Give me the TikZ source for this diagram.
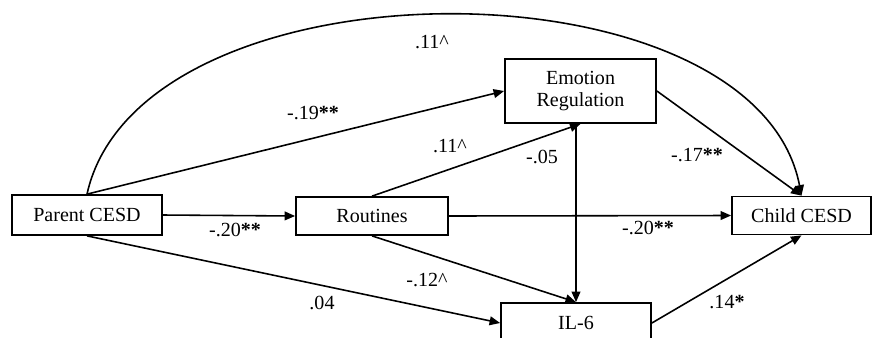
\documentclass[tikz,border=0pt]{standalone}
\usepackage{fontspec}
\setmainfont{Liberation Serif}
\usepackage{tikz}
\usetikzlibrary{arrows.meta,calc}
\newcommand{\sgA}{\textbf{*}}
\newcommand{\sgB}{\textbf{**}}

\begin{document}
\begin{tikzpicture}[
  font=\fontsize{11.4}{13}\selectfont,
  box/.style={draw, line width=1pt, inner sep=2pt, align=center, minimum width=3cm, minimum height=0.76cm},
  ar/.style={-{Triangle[length=6pt,width=5pt]}, line width=0.9pt},
  lbl/.style={inner sep=1pt}
]
\useasboundingbox (0,0) rectangle (17.5,6.74);
\node[box, minimum height=0.8cm] (par) at (1.74, 2.44) {Parent CESD};
\node[box, minimum width=3.04cm] (rou) at (7.44, 2.42) {Routines};
\node[box, minimum width=3.02cm, minimum height=1.28cm] (emo) at (11.61, 4.92) {Emotion\\[-1pt]Regulation};
\node[box, minimum width=2.78cm] (chi) at (16.03, 2.43) {Child CESD};
\node[box, minimum height=0.8cm] (il6) at (11.52, 0.28) {IL-6};
% path coefficients
\node[lbl] (c1) at (8.64, 5.90) {.11\textasciicircum};
\node[lbl] (c2) at (6.26, 4.48) {-.19\sgB};
\node[lbl] (c3) at (9.00, 3.82) {.11\textasciicircum};
\node[lbl] (c4) at (10.84, 3.60) {-.05};
\node[lbl] (c5) at (13.94, 3.64) {-.17\sgB};
\node[lbl] (c6) at (4.70, 2.14) {-.20\sgB};
\node[lbl] (c7) at (12.96, 2.18) {-.20\sgB};
\node[lbl] (c8) at (8.54, 1.14) {-.12\textasciicircum};
\node[lbl] (c9) at (6.44, 0.68) {.04};
\node[lbl] (c10) at (14.54, 0.70) {.14\sgA};
% paths
\draw[ar] (par.north) .. controls (2.8, 7.64) and (15.1, 7.64) .. (chi.north);
\draw[ar] (par.north) -- (emo.west);
\draw[ar] (par.east) -- (rou.west);
\draw[ar] (par.south) -- (il6.west);
\draw[ar] (rou.north) -- (emo.south);
\draw[ar] (rou.east) -- (chi.west);
\draw[ar] (rou.south) -- (il6.north);
\draw[ar] (emo.south -| il6.north) -- (il6.north);
\draw[ar] (emo.east) -- (chi.north);
\draw[ar] (il6.east) -- (chi.south);
\end{tikzpicture}
\end{document}
